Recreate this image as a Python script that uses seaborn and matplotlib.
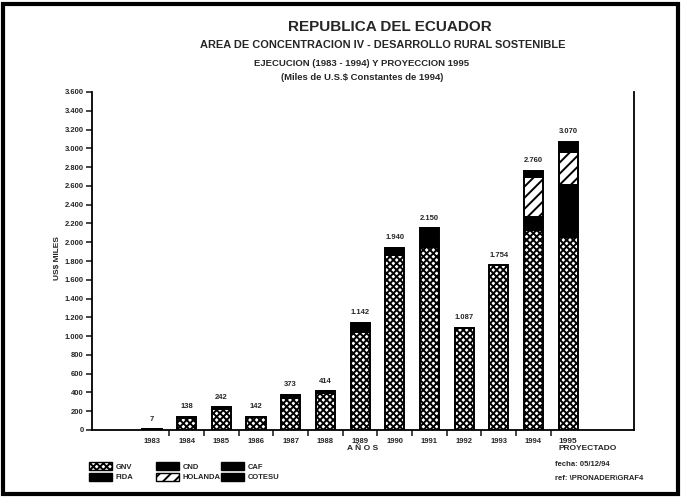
import matplotlib
matplotlib.use("Agg")
import matplotlib.pyplot as plt
from matplotlib.patches import Patch, Rectangle
import numpy as np
import pandas as pd
import seaborn as sns

# Ejecucion 1983-1994 y proyeccion 1995 (miles de US$ constantes de 1994)
years = ["1983", "1984", "1985", "1986", "1987", "1988", "1989",
         "1990", "1991", "1992", "1993", "1994", "1995\nPROYECTADO"]
gnv = [7, 125, 225, 142, 338, 390, 1047, 1860, 1945, 1087, 1754, 2125, 2055]
fida = [0, 13, 17, 0, 35, 24, 95, 80, 205, 0, 0, 140, 550]
cnd = [0, 0, 0, 0, 0, 0, 0, 0, 0, 0, 0, 0, 0]
holanda = [0, 0, 0, 0, 0, 0, 0, 0, 0, 0, 0, 425, 356]
caf = [0, 0, 0, 0, 0, 0, 0, 0, 0, 0, 0, 0, 0]
cotesu = [0, 0, 0, 0, 0, 0, 0, 0, 0, 0, 0, 70, 109]
y_ticks = list(range(0, 3601, 200))

df = pd.DataFrame({"GNV": gnv, "FIDA": fida, "CND": cnd,
                   "HOLANDA": holanda, "CAF": caf, "COTESU": cotesu}, index=years)
styles = {
    "GNV": dict(facecolor="white", hatch="xxxxx"),
    "FIDA": dict(facecolor="black", hatch=None),
    "CND": dict(facecolor="black", hatch=None),
    "HOLANDA": dict(facecolor="white", hatch="///"),
    "CAF": dict(facecolor="black", hatch=None),
    "COTESU": dict(facecolor="black", hatch=None),
}

sns.set_theme(style="white")
plt.rcParams["font.family"] = ["Liberation Sans", "DejaVu Sans"]
plt.rcParams["font.weight"] = "bold"
plt.rcParams["hatch.linewidth"] = 1.4

W, H = 681, 497
fig = plt.figure(figsize=(W / 100, H / 100), dpi=100)
fig.patch.set_facecolor("white")
ax = fig.add_axes([92 / W, 1 - 430 / H, (634 - 92) / W, (430 - 92) / H])

x = np.arange(len(years))
bottom = np.zeros(len(years))
for col in df.columns:
    vals = df[col].to_numpy()
    ax.bar(x, vals, width=0.55, bottom=bottom, edgecolor="black",
           linewidth=1.4, **styles[col])
    bottom += vals

totals = df.sum(axis=1).to_numpy()
for xi, t in zip(x, totals):
    ax.text(xi, t + 70, f"{t:,}".replace(",", "."), ha="center", va="bottom",
            fontsize=5.5, fontweight="bold")

ax.set_xlim(-1.73, 13.9)
ax.set_ylim(0, 3600)
ax.set_yticks(y_ticks)
ax.set_yticklabels([f"{v:,}".replace(",", ".") for v in y_ticks], fontsize=5.5,
                   fontweight="bold")
ax.tick_params(axis="y", direction="out", length=4, width=1.2, pad=2, left=True)

# marcas entre categorias, etiquetas centradas (la ultima se escribe aparte)
ax.set_xticks(x[:-1] + 0.5)
ax.set_xticklabels([])
ax.tick_params(axis="x", which="major", direction="out", length=4, width=1.2, bottom=True)
ax.set_xticks(x, minor=True)
ax.set_xticklabels(years[:-1] + [""], minor=True, fontsize=5.5, fontweight="bold")
ax.tick_params(axis="x", which="minor", length=0, pad=6)
ax.text(x[-1] - 0.29, -0.025, years[-1], transform=ax.get_xaxis_transform(),
        ha="left", va="top", fontsize=6, fontweight="bold", linespacing=1.0)

for side in ["left", "bottom", "right"]:
    ax.spines[side].set_visible(True)
    ax.spines[side].set_color("black")
    ax.spines[side].set_linewidth(1.3)
ax.spines["top"].set_visible(False)
ax.grid(False)

def ftext(px, py, s, **kw):
    fig.text(px / W, 1 - py / H, s, fontweight="bold", **kw)

ftext(390, 27, "REPUBLICA DEL ECUADOR", ha="center", va="center", fontsize=11)
ftext(383, 45, "AREA DE CONCENTRACION IV - DESARROLLO RURAL SOSTENIBLE",
      ha="center", va="center", fontsize=7.9)
ftext(362, 63, "EJECUCION (1983 - 1994) Y PROYECCION 1995", ha="center",
      va="center", fontsize=6.8)
ftext(362, 78, "(Miles de U.S.$ Constantes de 1994)", ha="center", va="center",
      fontsize=6.8)
ftext(57, 258, "US$ MILES", ha="center", va="center", rotation=90, fontsize=6)
ftext(363, 448, "A Ñ O S", ha="center", va="center", fontsize=6)
ftext(555, 464, "fecha: 05/12/94", ha="left", va="center", fontsize=5.5)
ftext(555, 479, "ref: \\PRONADER\\GRAF4", ha="left", va="center", fontsize=5.5)

# leyenda: tres columnas colocadas a mano
cols = list(df.columns)
for k, x0 in enumerate([86, 153, 218]):
    pair = cols[2 * k:2 * k + 2]
    hs = [Patch(edgecolor="black", linewidth=1, **styles[c]) for c in pair]
    fig.legend(hs, pair, loc="upper left", bbox_to_anchor=(x0 / W, 1 - 459 / H),
               ncol=1, frameon=False, handlelength=3.0, handleheight=1.2,
               labelspacing=0.3, handletextpad=0.5, borderaxespad=0,
               prop={"weight": "bold", "size": 5.5})

fig.add_artist(Rectangle((0.004, 0.006), 0.992, 0.986, transform=fig.transFigure,
                         fill=False, edgecolor="black", linewidth=3))

fig.savefig("out.png", dpi=100)
